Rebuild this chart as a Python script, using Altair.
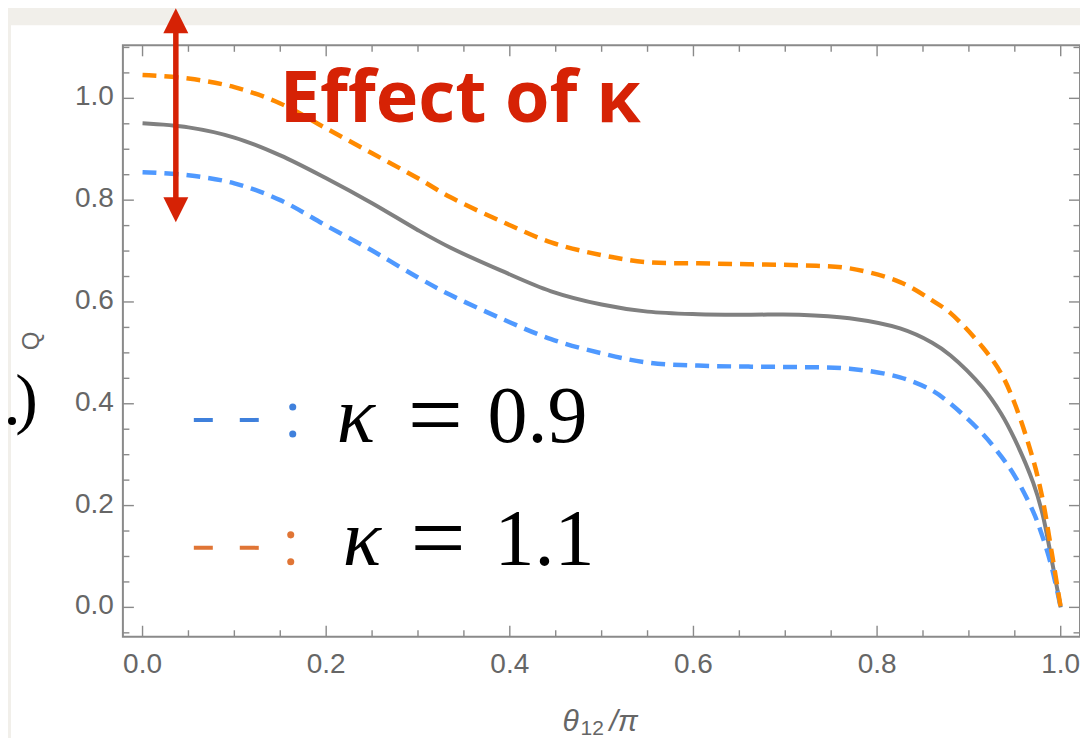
import altair as alt
import pandas as pd

# ---- data ----
theta = [0.0, 0.05, 0.1, 0.15, 0.2, 0.25, 0.3, 0.335, 0.39, 0.445, 0.5, 0.55, 0.605,
         0.66, 0.715, 0.77, 0.825, 0.86, 0.88, 0.915, 0.935, 0.95, 0.97, 0.98, 0.99, 1.0]
q_ref = [0.951, 0.943, 0.923, 0.888, 0.843, 0.794, 0.741, 0.707, 0.662, 0.621, 0.595, 0.581, 0.576,
         0.575, 0.575, 0.568, 0.548, 0.520, 0.495, 0.432, 0.381, 0.330, 0.245, 0.185, 0.095, 0.0]
q_k09 = [0.855, 0.849, 0.833, 0.800, 0.750, 0.701, 0.648, 0.614, 0.568, 0.527, 0.499, 0.481, 0.475,
         0.473, 0.472, 0.469, 0.452, 0.426, 0.400, 0.341, 0.297, 0.258, 0.188, 0.140, 0.080, 0.0]
q_k11 = [1.046, 1.039, 1.022, 0.990, 0.941, 0.892, 0.843, 0.806, 0.759, 0.717, 0.692, 0.678, 0.676,
         0.674, 0.672, 0.666, 0.639, 0.603, 0.578, 0.511, 0.460, 0.400, 0.290, 0.215, 0.110, 0.0]

x_major = [0.0, 0.2, 0.4, 0.6, 0.8, 1.0]
x_minor = [0.05, 0.1, 0.15, 0.25, 0.3, 0.35, 0.45, 0.5, 0.55, 0.65, 0.7, 0.75, 0.85, 0.9, 0.95]
y_major = [0.0, 0.2, 0.4, 0.6, 0.8, 1.0]
y_minor = [-0.05, 0.05, 0.1, 0.15, 0.25, 0.3, 0.35, 0.45, 0.5, 0.55, 0.65, 0.7, 0.75,
           0.85, 0.9, 0.95, 1.05, 1.1]
tick_labels = ["0.0", "0.2", "0.4", "0.6", "0.8", "1.0"]

annotation = "Effect of κ"
legend_kappa = ["0.9", "1.1"]

# ---- styling ----
W, H = 958, 592
GRAY_AX = "#8a8a8a"
LABEL = "#666666"
RED = "#d62205"
BLUE = "#4f99ff"
ORANGE = "#ff8a00"
LEG_BLUE = "#3f80dc"
LEG_ORANGE = "#e07535"
SANS = "Liberation Sans"
SERIF = "Liberation Serif"

xs = alt.Scale(domain=[-0.0214, 1.021], nice=False, zero=False)
ys = alt.Scale(domain=[-0.0577, 1.1042], nice=False, zero=False)

dummy = pd.DataFrame({"d": [0]})

def df_line(vals):
    return pd.DataFrame({"t": theta, "q": vals})

bg = alt.Chart(dummy).mark_rect(color="white").encode(
    x=alt.value(-112), x2=alt.value(W + 30), y=alt.value(-20), y2=alt.value(H + 140))

def line(vals, color, dash, width):
    kw = dict(color=color, strokeWidth=width, interpolate="catmull-rom")
    if dash:
        kw["strokeDash"] = dash
    return alt.Chart(df_line(vals)).mark_line(**kw).encode(
        x=alt.X("t:Q", scale=xs, axis=None),
        y=alt.Y("q:Q", scale=ys, axis=None))

l_ref = line(q_ref, "#808080", None, 4)
l_09 = line(q_k09, BLUE, [14, 8], 4.5)
l_11 = line(q_k11, ORANGE, [14, 8], 4.5)

frame = alt.Chart(dummy).mark_rect(filled=False, stroke=GRAY_AX, strokeWidth=2).encode(
    x=alt.value(0), x2=alt.value(W), y=alt.value(0), y2=alt.value(H))

def xticks(vals, length):
    d = pd.DataFrame({"v": vals})
    base = alt.Chart(d).mark_rule(color=GRAY_AX, strokeWidth=1.4)
    b = base.encode(x=alt.X("v:Q", scale=xs, axis=None), y=alt.value(H), y2=alt.value(H - length))
    t = base.encode(x=alt.X("v:Q", scale=xs, axis=None), y=alt.value(0), y2=alt.value(length))
    return [b, t]

def yticks(vals, length):
    d = pd.DataFrame({"v": vals})
    base = alt.Chart(d).mark_rule(color=GRAY_AX, strokeWidth=1.4)
    l = base.encode(y=alt.Y("v:Q", scale=ys, axis=None), x=alt.value(0), x2=alt.value(length))
    r = base.encode(y=alt.Y("v:Q", scale=ys, axis=None), x=alt.value(W), x2=alt.value(W - length))
    return [l, r]

ticks = xticks(x_major, 11) + xticks(x_minor, 6.5) + yticks(y_major, 11) + yticks(y_minor, 6.5)

# tick labels (drawn through the scales)
xl = alt.Chart(pd.DataFrame({"v": x_major, "lab": tick_labels})).mark_text(
    font=SANS, fontSize=28, color=LABEL, align="center", baseline="alphabetic").encode(
    x=alt.X("v:Q", scale=xs, axis=None), y=alt.value(H + 36), text="lab:N")
yl = alt.Chart(pd.DataFrame({"v": y_major, "lab": tick_labels})).mark_text(
    font=SANS, fontSize=28, color=LABEL, align="right", baseline="middle", dy=-1).encode(
    y=alt.Y("v:Q", scale=ys, axis=None), x=alt.value(-9), text="lab:N")

def txt(s, x, y, **kw):
    return alt.Chart(dummy).mark_text(text=s, **kw).encode(x=alt.value(x), y=alt.value(y))

# arrow
shaft = alt.Chart(dummy).mark_rule(color=RED, strokeWidth=5.5).encode(
    x=alt.value(53), y=alt.value(-14), y2=alt.value(154))
tri_up = alt.Chart(dummy).mark_point(shape="M0,-1L1,1L-1,1Z", size=625, filled=True, opacity=1,
                                     color=RED, strokeWidth=0).encode(x=alt.value(53), y=alt.value(-24.5))
tri_dn = alt.Chart(dummy).mark_point(shape="M-1,-1L1,-1L0,1Z", size=625, filled=True, opacity=1,
                                     color=RED, strokeWidth=0).encode(x=alt.value(53), y=alt.value(164.5))

effect = txt(annotation, 157, 77, align="left", baseline="alphabetic", font="Open Sans",
             fontSize=72, fontWeight="bold", color=RED)

# legend
def leg(ycen, dot_x, color, kx, ex, nx, base, label):
    dash = alt.Chart(dummy).mark_rule(color=color, strokeWidth=4, strokeDash=[19, 27]).encode(
        x=alt.value(71), x2=alt.value(137), y=alt.value(ycen))
    d1 = alt.Chart(dummy).mark_circle(size=50, opacity=1, color=color).encode(
        x=alt.value(dot_x), y=alt.value(ycen - 13))
    d2 = alt.Chart(dummy).mark_circle(size=50, opacity=1, color=color).encode(
        x=alt.value(dot_x), y=alt.value(ycen + 14))
    k = txt("κ", kx, base, align="left", baseline="alphabetic", font=SERIF, fontSize=80,
            fontStyle="italic", color="black")
    e = txt("=", ex, base + 5, align="left", baseline="alphabetic", font=SERIF, fontSize=98,
            color="black")
    n = txt(label, nx, base, align="left", baseline="alphabetic", font=SERIF, fontSize=80,
            color="black")
    return [dash, d1, d2, k, e, n]

legend = leg(375, 170, LEG_BLUE, 214, 285, 365, 397, legend_kappa[0]) + \
         leg(503, 168, LEG_ORANGE, 220, 288, 372, 520, legend_kappa[1])

# cut-off fragment at the left edge: a dot and a closing parenthesis
pdot = alt.Chart(dummy).mark_circle(size=64, opacity=1, color="black").encode(
    x=alt.value(-111), y=alt.value(376))
paren = txt(")", -85, 376, align="right", baseline="alphabetic", font=SERIF, fontSize=68,
            color="black")
ytitle = txt("Q", -91, H / 2, align="center", baseline="middle", font=SANS, fontSize=24,
             color=LABEL, angle=270)
xt1 = txt("θ", 440, 686, align="left", baseline="alphabetic", font=SANS, fontSize=30,
          fontStyle="italic", color=LABEL)
xt2 = txt("12", 458, 690, align="left", baseline="alphabetic", font=SANS, fontSize=21, color=LABEL)
xt3 = txt("/π", 487, 686, align="left", baseline="alphabetic", font=SANS, fontSize=30,
          fontStyle="italic", color=LABEL)

chart = alt.layer(
    bg, l_ref, l_09, l_11, frame, *ticks, xl, yl, shaft, tri_up, tri_dn, effect, *legend,
    pdot, paren, ytitle, xt1, xt2, xt3
).properties(
    width=W, height=H,
    padding={"left": 115, "top": 37, "right": 0, "bottom": 101},
    autosize=alt.AutoSizeParams(type="none"),
).configure(background="#f1efea").configure_view(stroke=None)

chart.save("out.html", embed_options={"renderer": "svg", "actions": False})
